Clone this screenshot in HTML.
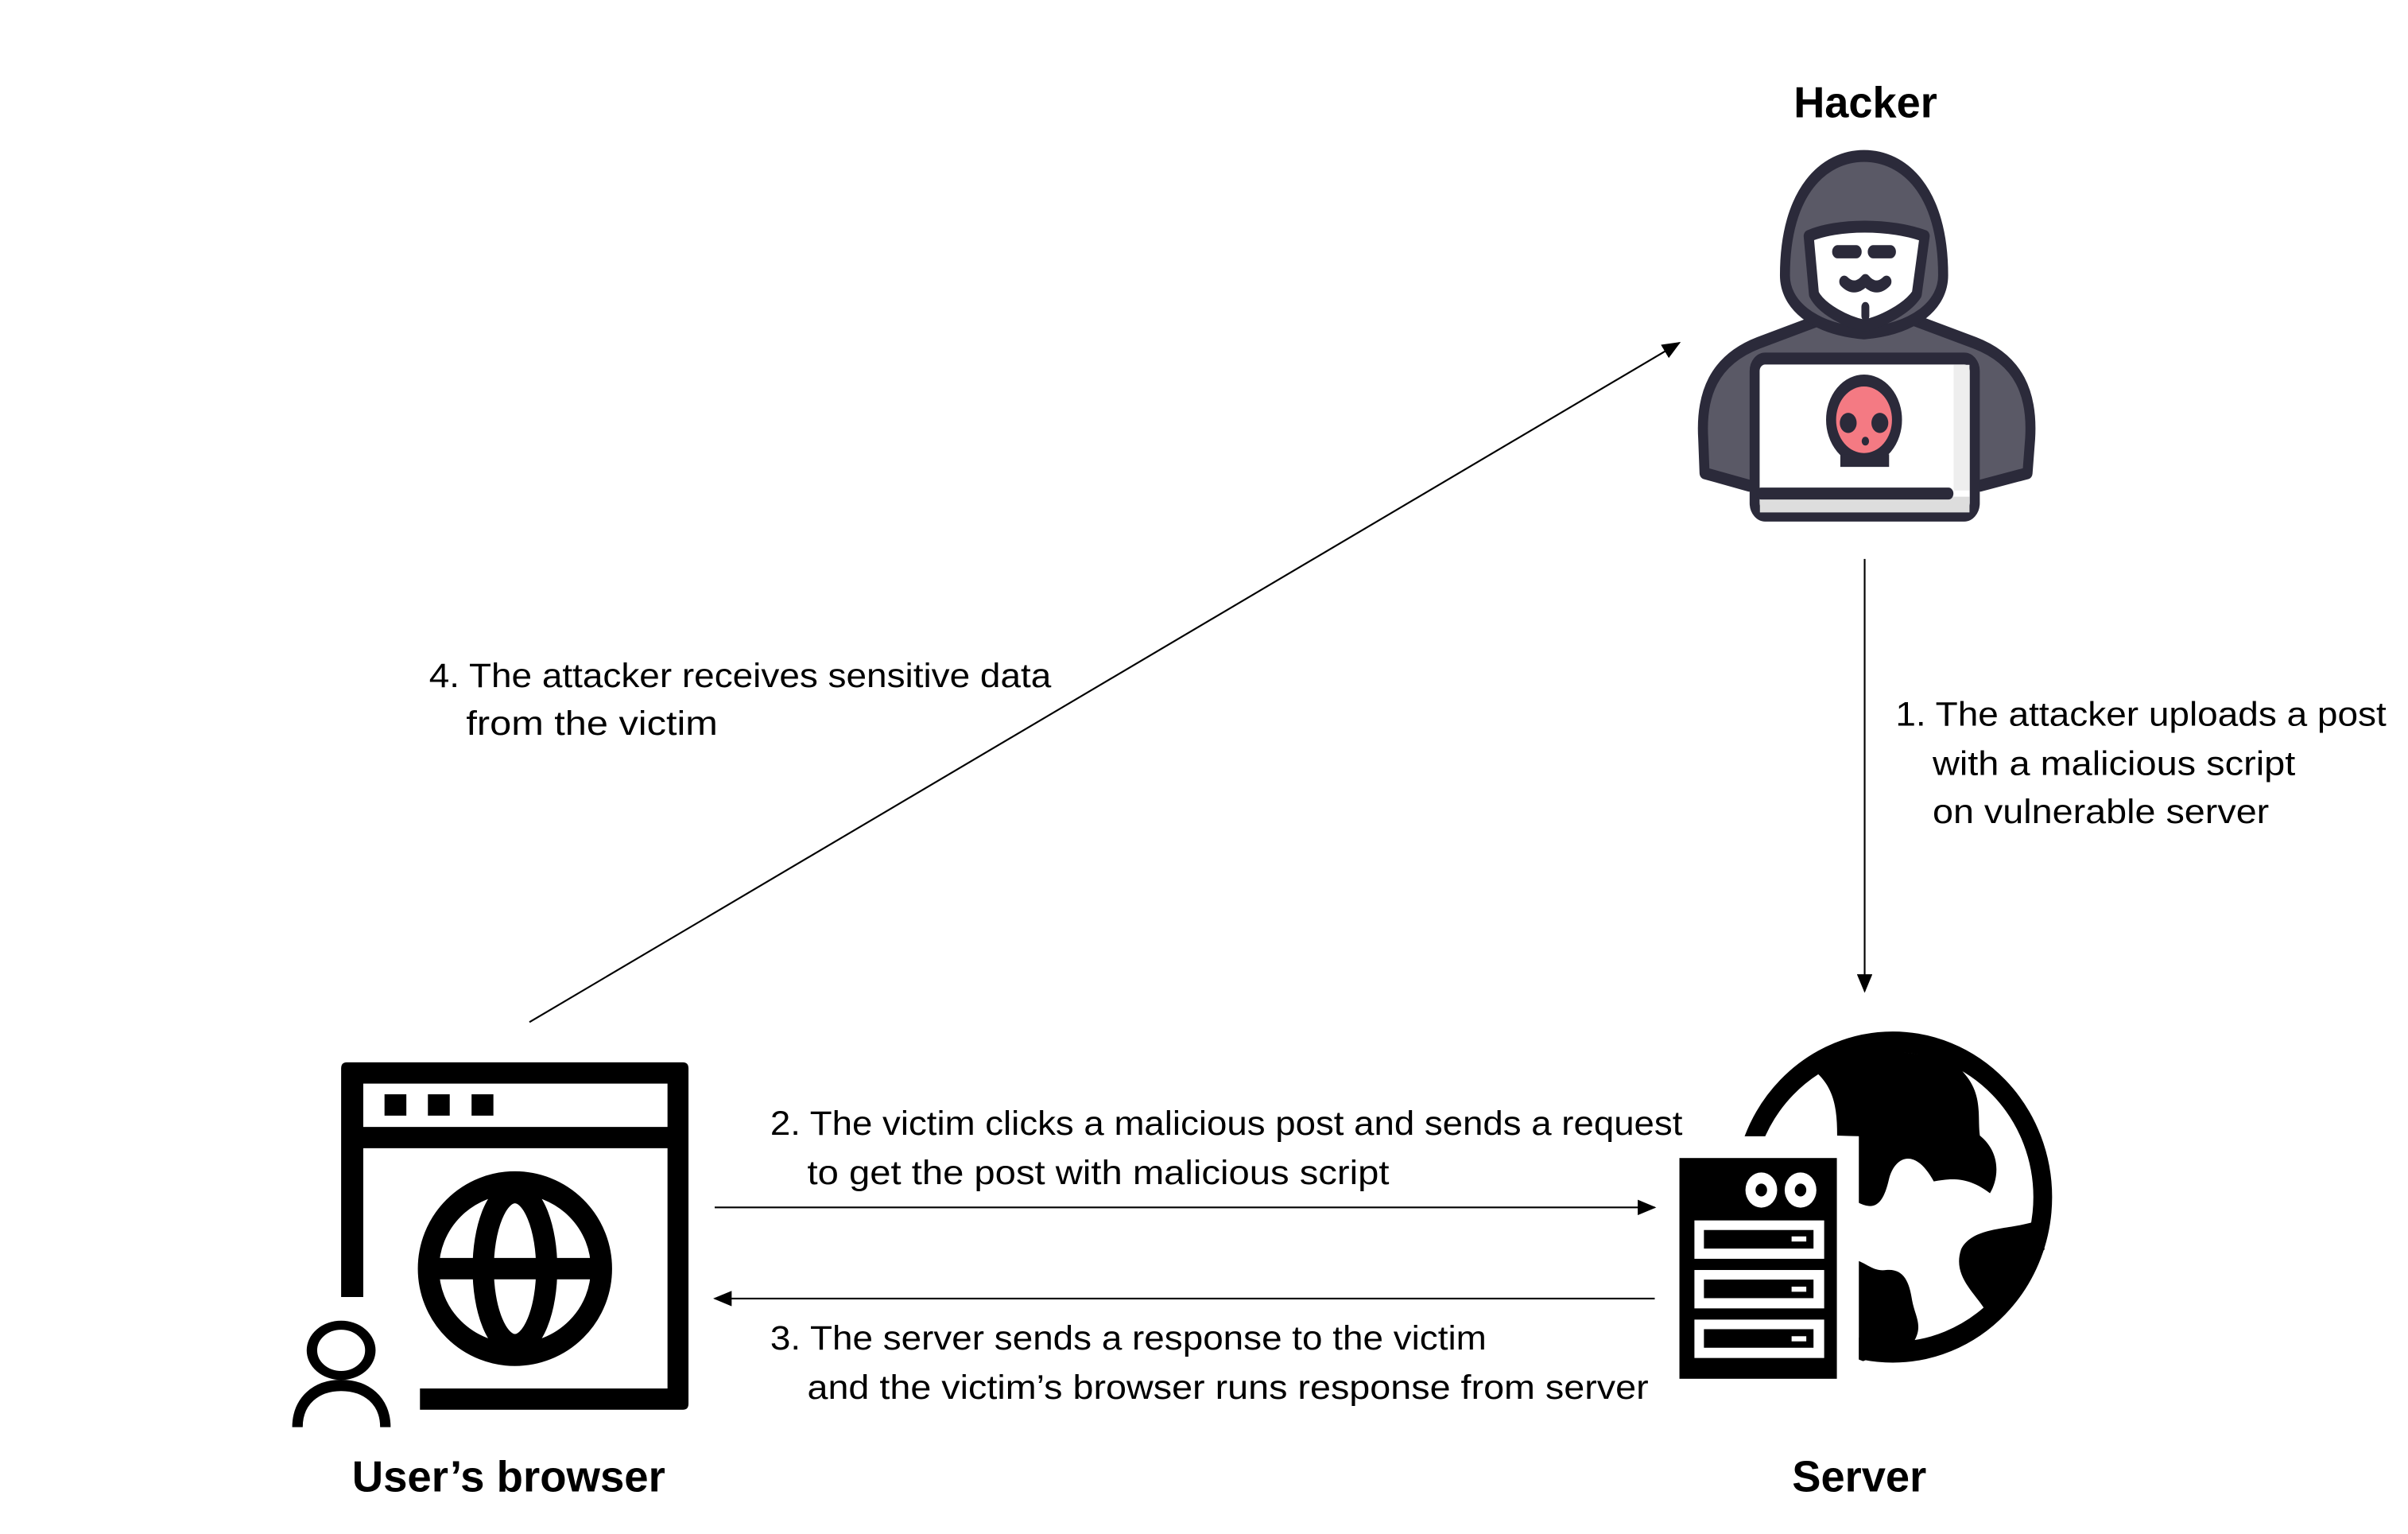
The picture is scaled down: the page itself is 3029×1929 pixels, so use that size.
<!DOCTYPE html>
<html><head><meta charset="utf-8"><style>html,body{margin:0;padding:0;background:#fff}svg{display:block}</style></head><body>
<svg width="3029" height="1929" viewBox="0 0 1560 993.5" preserveAspectRatio="none" xmlns="http://www.w3.org/2000/svg">
<defs>
<marker id="ah" markerWidth="12" markerHeight="10" refX="11" refY="5" orient="auto" markerUnits="userSpaceOnUse"><path d="M0,0 L12,5 L0,10 Z" fill="#000"/></marker>
</defs>
<rect width="1560" height="993.5" fill="#fff"/>
<g font-family="Liberation Sans, sans-serif" fill="#000">
<text x="1162" y="76" font-size="28" font-weight="bold" textLength="93" lengthAdjust="spacingAndGlyphs">Hacker</text>
<text x="228" y="966" font-size="28" font-weight="bold" textLength="203" lengthAdjust="spacingAndGlyphs">User’s browser</text>
<text x="1161" y="966" font-size="28" font-weight="bold" textLength="87" lengthAdjust="spacingAndGlyphs">Server</text>
<g font-size="22" lengthAdjust="spacingAndGlyphs">
<text x="278" y="445" textLength="403" lengthAdjust="spacingAndGlyphs">4. The attacker receives sensitive data</text>
<text x="302" y="476" textLength="163" lengthAdjust="spacingAndGlyphs">from the victim</text>
<text x="1228" y="470" textLength="318" lengthAdjust="spacingAndGlyphs">1. The attacker uploads a post</text>
<text x="1252" y="502" textLength="235" lengthAdjust="spacingAndGlyphs">with a malicious script</text>
<text x="1252" y="533" textLength="218" lengthAdjust="spacingAndGlyphs">on vulnerable server</text>
<text x="499" y="735" textLength="591" lengthAdjust="spacingAndGlyphs">2. The victim clicks a malicious post and sends a request</text>
<text x="523" y="767" textLength="377" lengthAdjust="spacingAndGlyphs">to get the post with malicious script</text>
<text x="499" y="874" textLength="464" lengthAdjust="spacingAndGlyphs">3. The server sends a response to the victim</text>
<text x="523" y="906" textLength="545" lengthAdjust="spacingAndGlyphs">and the victim’s browser runs response from server</text>
</g>
</g>
<g stroke="#000" stroke-width="1.1" fill="none">
<line x1="1208" y1="362" x2="1208" y2="642" marker-end="url(#ah)"/>
<line x1="343" y1="662" x2="1088" y2="222" marker-end="url(#ah)"/>
<line x1="463" y1="782" x2="1072" y2="782" marker-end="url(#ah)"/>
<line x1="1072" y1="841" x2="463" y2="841" marker-end="url(#ah)"/>
</g>

<!-- Hacker icon (zoom coords) -->
<g transform="translate(1100,100) scale(0.1708,0.2034) translate(-70,-335)" stroke="#2b2a3a" stroke-width="38" stroke-linejoin="round" stroke-linecap="round">
<path d="M90,1240 C80,1100 130,990 300,935 L570,850 L850,850 L1120,935 C1290,990 1340,1100 1330,1240 L1320,1350 L1140,1390 L265,1390 L95,1350 Z" fill="#5a5966"/>
<path d="M400,720 C400,450 550,340 700,340 C850,340 1000,450 1000,720 C1000,810 900,890 700,905 C500,890 400,810 400,720 Z" fill="#5a5966"/>
<path d="M490,595 C600,555 800,555 930,595 L900,780 C860,830 760,870 700,880 C640,870 540,830 510,780 Z" fill="#fff"/>
<path d="M600,645 L670,645 M735,645 L800,645" stroke-width="42"/>
<path d="M625,740 C660,770 690,750 705,735 C720,750 750,770 785,740" stroke-width="38" fill="none"/>
<path d="M705,820 L705,850" stroke-width="30"/>
<rect x="285" y="985" width="835" height="500" rx="40" fill="#fff"/>
<rect x="1040" y="1005" width="60" height="400" fill="#eee" stroke="none"/>
<rect x="305" y="1425" width="795" height="50" fill="#ddd" stroke="none"/>
<path d="M310,1415 L1020,1415"/>
<circle cx="700" cy="1180" r="125" fill="#f47a83"/>
<rect x="610" y="1290" width="185" height="40" fill="#2b2a3a" stroke="none"/>
<circle cx="640" cy="1190" r="32" fill="#2b2a3a" stroke="none"/>
<circle cx="760" cy="1190" r="32" fill="#2b2a3a" stroke="none"/>
<circle cx="705" cy="1248" r="14" fill="#2b2a3a" stroke="none"/>
</g>

<!-- Browser icon (zoom coords) -->
<g transform="translate(221,688) scale(0.1837,0.1974) translate(-237,-75)" fill="#000">
<path d="M257,75 L1442,75 Q1462,75 1462,95 L1462,1195 Q1462,1215 1442,1215 L515,1215 L515,1145 L1388,1145 L1388,357 L315,357 L315,845 L237,845 L237,95 Q237,75 257,75 Z M315,145 L315,287 L1388,287 L1388,145 Z" fill-rule="evenodd"/>
<rect x="390" y="180" width="77" height="70"/>
<rect x="543" y="180" width="77" height="70"/>
<rect x="697" y="180" width="77" height="70"/>
<g fill="none" stroke="#000" stroke-width="75">
<ellipse cx="850" cy="752" rx="305" ry="282"/>
<ellipse cx="850" cy="752" rx="112" ry="252"/>
<line x1="570" y1="752" x2="1130" y2="752" stroke-width="70"/>
<circle cx="237" cy="1020" r="103" stroke-width="37" transform="translate(237,1020) scale(1,0.8) translate(-237,-1020)"/>
<path d="M83,1272 C83,1185 150,1135 237,1135 C325,1135 393,1185 393,1272" stroke-width="37"/>
</g>
</g>

<!-- Server icon (zoom coords) -->
<g transform="translate(1088,750) scale(0.1868,0.2072) translate(-63,-435)" fill="#000">
<ellipse cx="803" cy="557" rx="520" ry="485" fill="none" stroke="#000" stroke-width="65"/>
<path d="M525,158 C600,210 610,280 610,365 L685,367 L685,575 C740,600 770,580 790,500 C810,430 880,400 945,508 C1000,500 1060,490 1140,545 C1170,500 1180,420 1105,365 C1095,300 1120,230 1035,155 C900,90 700,80 525,158 Z"/>
<path d="M685,757 C720,770 740,790 780,785 C840,780 860,820 870,880 C880,930 910,960 875,1010 L700,1070 L685,1065 Z"/>
<path d="M1290,635 C1200,660 1080,650 1040,720 C1010,800 1080,850 1120,905 L1330,720 Z"/>
<rect x="0" y="367" width="685" height="820" fill="#fff"/>
<rect x="63" y="435" width="546" height="690"/>
<circle cx="347" cy="535" r="55" fill="#fff"/><circle cx="347" cy="535" r="20"/>
<circle cx="483" cy="535" r="55" fill="#fff"/><circle cx="483" cy="535" r="20"/>
<g fill="#fff">
<rect x="115" y="630" width="450" height="120"/>
<rect x="115" y="785" width="450" height="120"/>
<rect x="115" y="940" width="450" height="120"/>
</g>
<rect x="148" y="660" width="380" height="58"/>
<rect x="148" y="815" width="380" height="58"/>
<rect x="148" y="970" width="380" height="58"/>
<g fill="#fff">
<rect x="452" y="680" width="51" height="16"/>
<rect x="452" y="837" width="51" height="16"/>
<rect x="452" y="992" width="51" height="16"/>
</g>
</g>
</svg>
</body></html>
